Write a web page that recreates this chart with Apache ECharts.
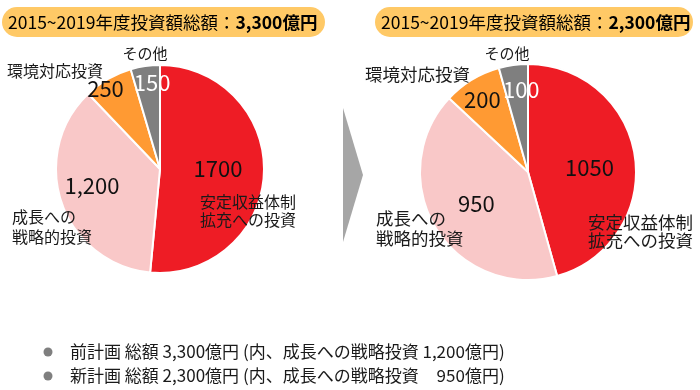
<!DOCTYPE html>
<html><head><meta charset="utf-8">
<script src="https://cdn.jsdelivr.net/npm/echarts@6/dist/echarts.min.js"></script>
<style>html,body{margin:0;padding:0;background:#fff}#c{width:700px;height:390px}</style>
</head><body><div id="c"></div>
<script>
// ---- data ----
const categories = ['安定収益体制拡充への投資', '成長への戦略的投資', '環境対応投資', 'その他'];
const prevValues = [1700, 1200, 250, 150];
const newValues = [1050, 950, 200, 100];
const prevValueLabels = ['1700', '1,200', '250', '150'];
const newValueLabels = ['1050', '950', '200', '100'];
const titleLead = '2015~2019年度投資額総額：';
const prevTotalText = '3,300億円';
const newTotalText = '2,300億円';
const nameLabelText = ['安定収益体制\n拡充への投資', '成長への\n戦略的投資', '環境対応投資', 'その他'];
const notePlans = ['前計画 総額 3,300億円 (内、成長への戦略投資 ', '新計画 総額 2,300億円 (内、成長への戦略投資 '];
const noteGrowth = ['1,200', '950'];
const noteTail = '億円)';

// ---- styles ----
const FONT = '"Noto Sans CJK JP", "Noto Sans", sans-serif';
const sliceColors = ['#EE1C25', '#F9C8C8', '#FF9A33', '#7F7F7F'];
const valueColors = ['#111', '#111', '#111', '#fff'];
const prevOffsets = [[3, -3], [-16, -1], [-27, -33], [0, -32]];
const newOffsets = [[5, 3], [-3, 2], [-16, -24], [1, -26]];

function buildData(values, labels) {
  return categories.map((c, i) => ({
    name: c, value: values[i],
    itemStyle: { color: sliceColors[i] },
    label: { formatter: labels[i], color: valueColors[i] }
  }));
}
function pieSeries(values, labels, center, radius, offsets) {
  return {
    type: 'pie', center: center, radius: radius, startAngle: 90, clockwise: true,
    silent: true, animation: false,
    itemStyle: { borderColor: '#fff', borderWidth: 2 },
    label: { show: true, position: 'inside', fontFamily: FONT, fontSize: 22 },
    labelLine: { show: false },
    labelLayout: function (p) { const o = offsets[p.dataIndex]; return { dx: o[0], dy: o[1] }; },
    data: buildData(values, labels)
  };
}

const chart = echarts.init(document.getElementById('c'), null, { renderer: 'canvas' });

function nameText(txt, x, y, size, lh, align) {
  return { type: 'text', z: 100, x: x, y: y, style: { text: txt, fontFamily: FONT, fontSize: size, lineHeight: lh, fill: '#1a1a1a', align: align || 'left', verticalAlign: 'middle' } };
}
function badge(x, w, total, tx) {
  return [
    { type: 'rect', z: 50, shape: { x: x, y: 7, width: w, height: 30, r: 15 }, style: { fill: '#FFC966' } },
    { type: 'text', z: 100, x: tx, y: 22.5, style: {
      text: '{a|' + titleLead + '}{b|' + total + '}',
      verticalAlign: 'middle',
      rich: {
        a: { fontFamily: FONT, fontSize: 17.5, color: '#1a1a1a' },
        b: { fontFamily: FONT, fontSize: 17.5, fontWeight: 'bold', color: '#000' }
      } } }
  ];
}

const graphics = [].concat(
  badge(2, 323, prevTotalText, 8),
  badge(375, 318, newTotalText, 381),
  [
    { type: 'polygon', z: 50, shape: { points: [[343, 108], [363, 175], [343, 242]] }, style: { fill: '#A6A6A6' } },
    nameText(nameLabelText[3], 145, 53, 15, 18, 'center'),
    nameText(nameLabelText[2], 7, 71, 16, 18),
    nameText(nameLabelText[0], 200, 211, 16, 18),
    nameText(nameLabelText[1], 12, 227, 16, 20),
    nameText(nameLabelText[3], 507, 53, 15, 18, 'center'),
    nameText(nameLabelText[2], 365, 74, 17.5, 18),
    nameText(nameLabelText[0], 588, 231, 17.5, 18),
    nameText(nameLabelText[1], 376, 228, 17.5, 20)
  ]
);
// measure text for aligning the growth numbers on the bottom notes
const NOTE_SIZE = 17;
const mctx = document.createElement('canvas').getContext('2d');
mctx.font = NOTE_SIZE + 'px ' + FONT;
const planW = mctx.measureText(notePlans[0]).width;
const numW = Math.max.apply(null, noteGrowth.map(s => mctx.measureText(s).width));
const numRight = 70 + planW + numW;
[352, 376].forEach((y, i) => {
  graphics.push({ type: 'circle', z: 100, shape: { cx: 48, cy: y, r: 4.5 }, style: { fill: '#7F7F7F' } });
  graphics.push({ type: 'text', z: 100, x: 70, y: y, style: { text: notePlans[i], fontFamily: FONT, fontSize: NOTE_SIZE, fill: '#1a1a1a', verticalAlign: 'middle' } });
  graphics.push({ type: 'text', z: 100, x: numRight, y: y, style: { text: noteGrowth[i], fontFamily: FONT, fontSize: NOTE_SIZE, fill: '#1a1a1a', align: 'right', verticalAlign: 'middle' } });
  graphics.push({ type: 'text', z: 100, x: numRight, y: y, style: { text: noteTail, fontFamily: FONT, fontSize: NOTE_SIZE, fill: '#1a1a1a', verticalAlign: 'middle' } });
});

chart.setOption({
  backgroundColor: '#fff',
  animation: false,
  series: [
    pieSeries(prevValues, prevValueLabels, [160, 169], 104, prevOffsets),
    pieSeries(newValues, newValueLabels, [528, 172], 108, newOffsets)
  ],
  graphic: graphics
});
</script>
</body></html>
